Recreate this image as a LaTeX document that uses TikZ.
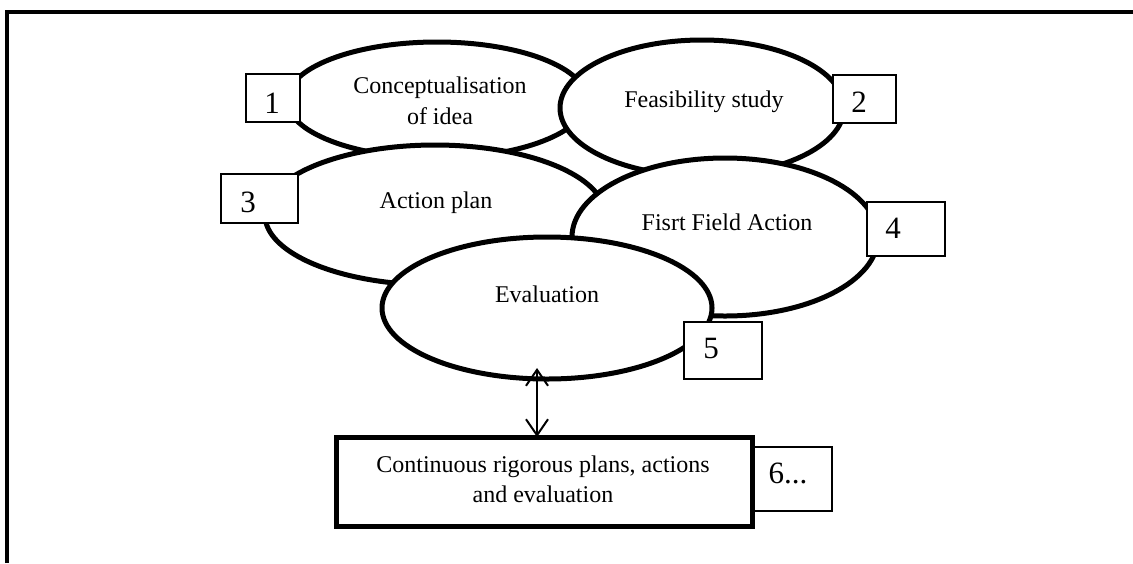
\documentclass[tikz,border=0pt]{standalone}
\usepackage{fontspec}
\setmainfont{Liberation Serif}
\usetikzlibrary{shapes.geometric,arrows.meta}
\begin{document}
\begin{tikzpicture}[x=0.5pt,y=-0.5pt,
  ell/.style={ellipse,draw,fill=white,line width=2.5pt,inner sep=0pt,outer sep=0pt},
  numbox/.style={rectangle,draw,fill=white,line width=0.7pt,inner sep=0pt,outer sep=0pt},
  lbl/.style={inner sep=0pt,anchor=base,font=\fontsize{12}{15.5}\selectfont},
  num/.style={inner sep=0pt,anchor=base,font=\fontsize{15.5}{18}\selectfont},
  bigbox/.style={rectangle,draw,fill=white,line width=2.5pt,inner sep=0pt,outer sep=0pt}]
\useasboundingbox (0,0) rectangle (1133,563);
% frame
\coordinate (fa) at (7,563);
\coordinate (fb) at (7,12);
\coordinate (fc) at (1133,12);
\draw[line width=2pt] (fa) -- (fb) -- (fc);
% ellipses
\node[ell,minimum width=150pt,minimum height=58pt] (e1) at (437,100) {};
\node[ell,minimum width=142pt,minimum height=68pt] (e2) at (702,108) {};
\node[ell,minimum width=170pt,minimum height=70pt] (e3) at (435,215) {};
\node[ell,minimum width=153pt,minimum height=79pt] (e4) at (725,237) {};
\node[ell,minimum width=165pt,minimum height=71pt] (e5) at (547,308) {};
% labels in ellipses
\node[inner sep=0pt,align=center,font=\fontsize{12}{15.5}\selectfont] (t1) at (440,101) {Conceptualisation\\of idea};
\node[lbl] (t2) at (704,107) {Feasibility study};
\node[lbl] (t3) at (436,208) {Action plan};
\node[lbl] (t4) at (727,230) {Fisrt Field Action};
\node[lbl] (t5) at (547,302) {Evaluation};
% number boxes
\node[numbox,minimum width=27pt,minimum height=24pt] (b1) at (273,98) {};
\node[numbox,minimum width=31.5pt,minimum height=24pt] (b2) at (864.5,99) {};
\node[numbox,minimum width=38.5pt,minimum height=24.5pt] (b3) at (259.5,198.5) {};
\node[numbox,minimum width=39pt,minimum height=27pt] (b4) at (906,229) {};
\node[numbox,minimum width=39pt,minimum height=28.5pt] (b5) at (723,350.5) {};
\node[numbox,minimum width=40pt,minimum height=32pt] (b6) at (792,479) {};
\node[num] (n1) at (272,113) {1};
\node[num] (n2) at (859,112) {2};
\node[num] (n3) at (248,212) {3};
\node[num] (n4) at (893,238) {4};
\node[num] (n5) at (711,358) {5};
\node[num] (n6) at (788,483) {6...};
% bottom rectangle
\node[bigbox,minimum width=208pt,minimum height=44.5pt] (r) at (544,481.5) {};
\node[inner sep=0pt,align=center,font=\fontsize{12}{15}\selectfont] (t6) at (543,479) {Continuous rigorous plans, actions\\and evaluation};
% arrow
\coordinate (atop) at (537,368);
\draw[line width=1pt,{Straight Barb[length=8pt,width=11pt]}-{Straight Barb[length=8pt,width=11pt]}] (atop) -- (r.north -| atop);
\end{tikzpicture}
\end{document}
